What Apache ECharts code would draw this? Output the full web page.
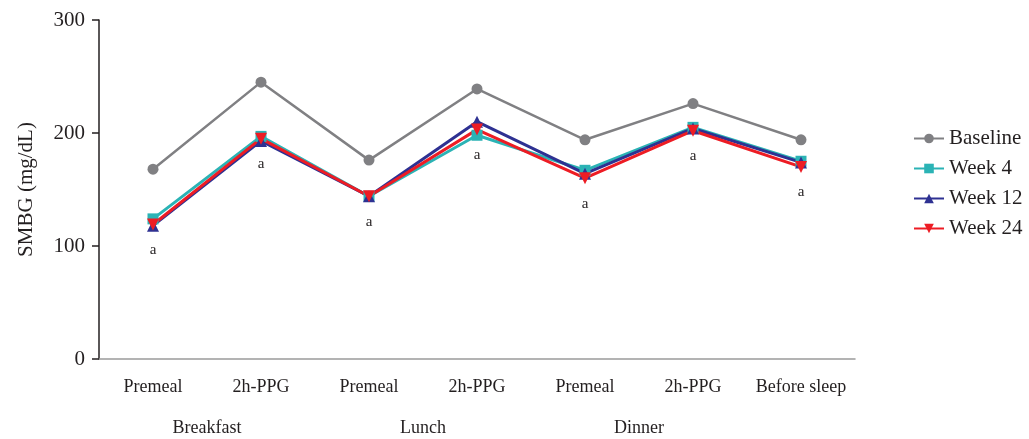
<!DOCTYPE html>
<html><head><meta charset="utf-8">
<script src="https://cdn.jsdelivr.net/npm/echarts@6/dist/echarts.min.js"></script>
<style>html,body{margin:0;padding:0;background:#fff}#c{width:1029px;height:439px}</style>
</head><body><div id="c"></div>
<script>
const categories = ['Premeal','2h-PPG','Premeal','2h-PPG','Premeal','2h-PPG','Before sleep'];
const groupLabels = ['Breakfast','Lunch','Dinner'];
const groupPositions = [1, 3, 5];
const baseline = [168, 245, 176, 239, 194, 226, 194];
const week4 = [124, 197, 144, 198, 167, 205, 175];
const week12 = [118, 193, 144, 210, 164, 204, 174];
const week24 = [119, 195, 144, 203, 160, 202, 170];
const sigMarks = ['a','a','a','a','a','a','a'];
const yTicks = [0, 100, 200, 300];

const FONT = 'Liberation Serif';
const chart = echarts.init(document.getElementById('c'));
function mkSeries(name, data, color, symbol, size, lw, extra) {
  return Object.assign({
    name, type: 'line', data, xAxisIndex: 0, yAxisIndex: 0,
    symbol, symbolSize: size, color,
    lineStyle: { color, width: lw }, itemStyle: { color },
    animation: false
  }, extra || {});
}
chart.setOption({
  animation: false,
  textStyle: { fontFamily: FONT },
  grid: { left: 99, right: 174, top: 20, bottom: 80 },
  legend: {
    orient: 'vertical', left: 908, top: 123, itemGap: 9,
    itemWidth: 30, itemHeight: 12,
    textStyle: { fontFamily: FONT, fontSize: 21, color: '#231f20' },
    data: ['Baseline','Week 4','Week 12','Week 24']
  },
  xAxis: [{
    type: 'category', data: categories, boundaryGap: true,
    axisLine: { lineStyle: { color: '#9a9a9a', width: 1.5 } },
    axisTick: { show: false },
    axisLabel: { fontFamily: FONT, fontSize: 18, color: '#231f20', margin: 19, interval: 0 }
  }, {
    type: 'value', min: 0, max: 7, interval: 1, position: 'bottom', offset: 0,
    axisLine: { show: false }, axisTick: { show: false }, splitLine: { show: false },
    axisLabel: {
      fontFamily: FONT, fontSize: 18, color: '#231f20', margin: 60,
      formatter: v => { const i = groupPositions.indexOf(v); return i >= 0 ? groupLabels[i] : ''; }
    }
  }],
  yAxis: {
    type: 'value', min: yTicks[0], max: yTicks[yTicks.length-1], interval: 100,
    name: 'SMBG (mg/dL)', nameLocation: 'middle', nameGap: 62,
    nameTextStyle: { fontFamily: FONT, fontSize: 21, color: '#231f20' },
    axisLine: { show: true, lineStyle: { color: '#231f20', width: 1.5 } },
    axisTick: { show: true, length: 7, lineStyle: { color: '#231f20', width: 1.5 } },
    axisLabel: { fontFamily: FONT, fontSize: 21, color: '#231f20', margin: 14 },
    splitLine: { show: false }
  },
  series: [
    mkSeries('Baseline', baseline, '#808083', 'circle', 11, 2.5),
    mkSeries('Week 4', week4, '#2bb3b5', 'rect', 11, 3),
    mkSeries('Week 12', week12, '#2e3192', 'triangle', 12, 3),
    mkSeries('Week 24', week24, '#ed1c24', 'path://M0,0 L10,0 L5,10 Z', 12, 3, {
      label: {
        show: true, position: 'bottom', distance: 12,
        formatter: p => sigMarks[p.dataIndex],
        fontFamily: FONT, fontSize: 15, color: '#231f20'
      }
    })
  ]
});
</script>
</body></html>
